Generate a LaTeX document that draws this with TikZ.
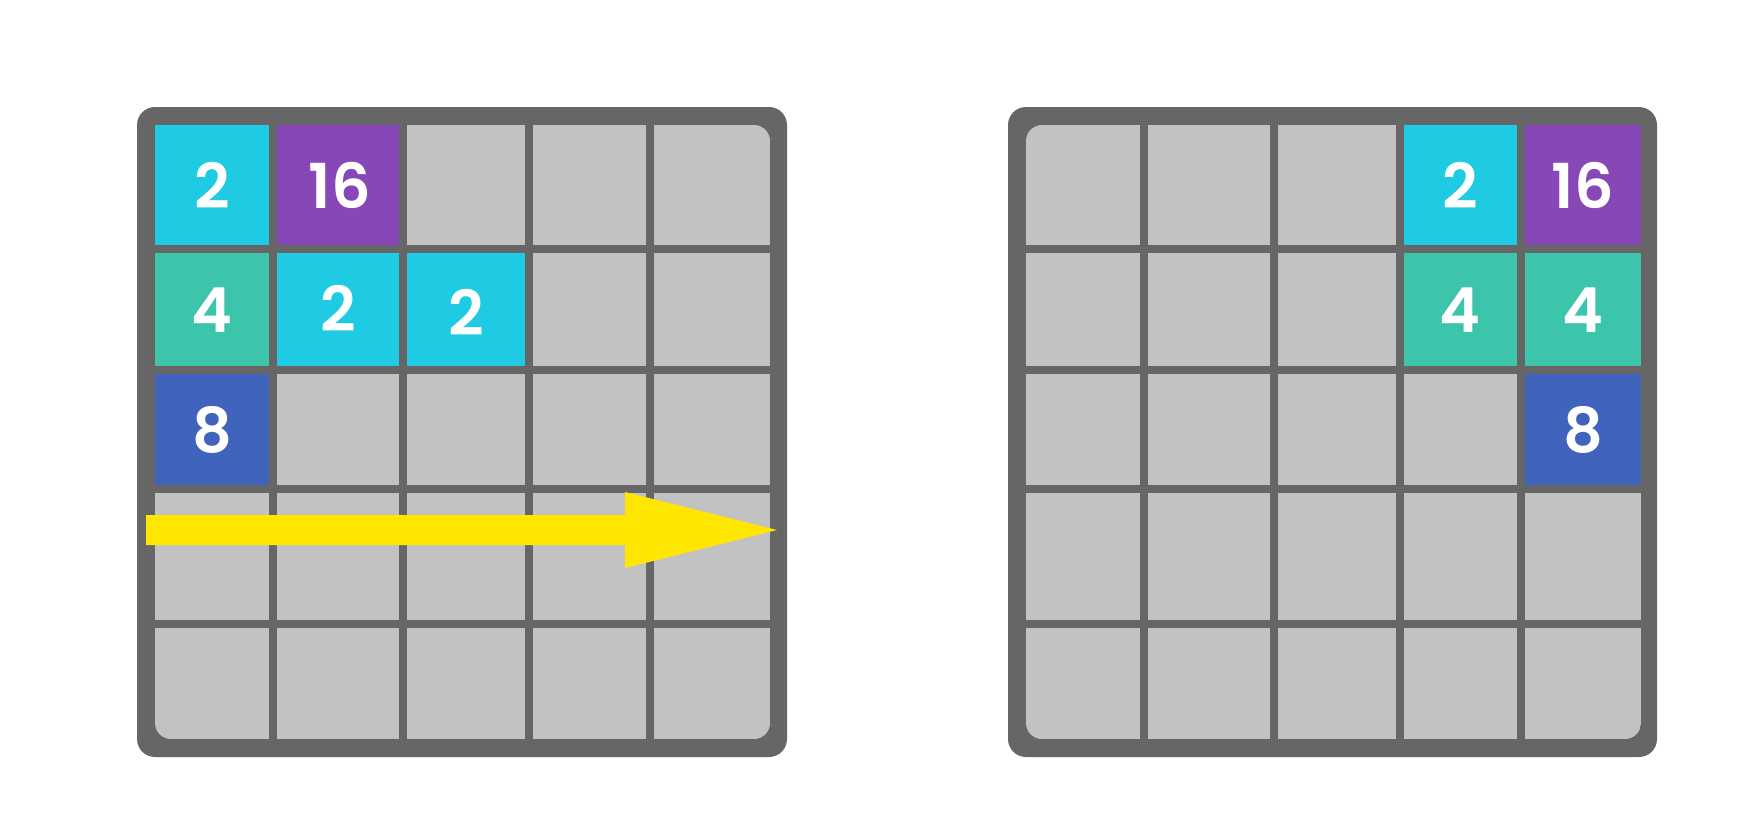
\documentclass[tikz,border=0pt]{standalone}
\usepackage{fontspec}
\newfontfamily\tilefont{Poppins}[UprightFont=*-SemiBold]
\definecolor{boardgray}{HTML}{666666}
\definecolor{cellgray}{HTML}{C2C2C2}
\definecolor{tcyan}{HTML}{1FCBE2}
\definecolor{tpurple}{HTML}{8847B7}
\definecolor{tteal}{HTML}{3CC5AA}
\definecolor{tblue}{HTML}{4063BC}
\definecolor{tyellow}{HTML}{FFE600}
\begin{document}
\begin{tikzpicture}[x=0.5pt,y=-0.5pt,
  num/.style={text=white, font=\tilefont\fontsize{31}{31}\selectfont, inner sep=0pt},
  board/.style={fill=boardgray, rounded corners=9pt},
  empty/.style={fill=cellgray}]
\useasboundingbox (0,0) rectangle (1739,816);
\fill[white] (0,0) rectangle (1739,816);

% ---------------- left board ----------------
\fill[board] (137,107) rectangle (787,757);
\begin{scope}
  \clip[rounded corners=8pt] (155,125) rectangle (770,739);
  \foreach \xa/\xb in {155/269, 277/399, 407/525, 533/646, 654/770}
    \foreach \ya/\yb in {125/245, 253/366, 374/485, 493/620, 628/739}
      \fill[empty] (\xa,\ya) rectangle (\xb,\yb);
\end{scope}
\fill[tcyan]   (155,125) rectangle (269,245);
\fill[tpurple] (277,125) rectangle (399,245);
\fill[tteal]   (155,253) rectangle (269,366);
\fill[tcyan]   (277,253) rectangle (399,366);
\fill[tcyan]   (407,253) rectangle (525,366);
\fill[tblue]   (155,374) rectangle (269,485);
\node[num] (l00) at (212,185) {2};
\node[num] (l01) at (340,185) {16};
\node[num] (l10) at (212,310) {4};
\node[num] (l11) at (338,308) {2};
\node[num] (l12) at (466,312) {2};
\node[num] (l20) at (212,430) {8};

% arrow
\fill[tyellow] (146,515) -- (625,515) -- (625,492) -- (777,530) -- (625,568) -- (625,545) -- (146,545) -- cycle;

% ---------------- right board ----------------
\fill[board] (1008,107) rectangle (1657,757);
\begin{scope}
  \clip[rounded corners=8pt] (1026,125) rectangle (1641,739);
  \foreach \xa/\xb in {1026/1140, 1148/1270, 1278/1396, 1404/1517, 1525/1641}
    \foreach \ya/\yb in {125/245, 253/366, 374/485, 493/620, 628/739}
      \fill[empty] (\xa,\ya) rectangle (\xb,\yb);
\end{scope}
\fill[tcyan]   (1404,125) rectangle (1517,245);
\fill[tpurple] (1525,125) rectangle (1641,245);
\fill[tteal]   (1404,253) rectangle (1517,366);
\fill[tteal]   (1525,253) rectangle (1641,366);
\fill[tblue]   (1525,374) rectangle (1641,485);
\node[num] (r03) at (1460,185) {2};
\node[num] (r04) at (1583,185) {16};
\node[num] (r13) at (1460,310) {4};
\node[num] (r14) at (1583,310) {4};
\node[num] (r24) at (1583,430) {8};
\end{tikzpicture}
\end{document}
